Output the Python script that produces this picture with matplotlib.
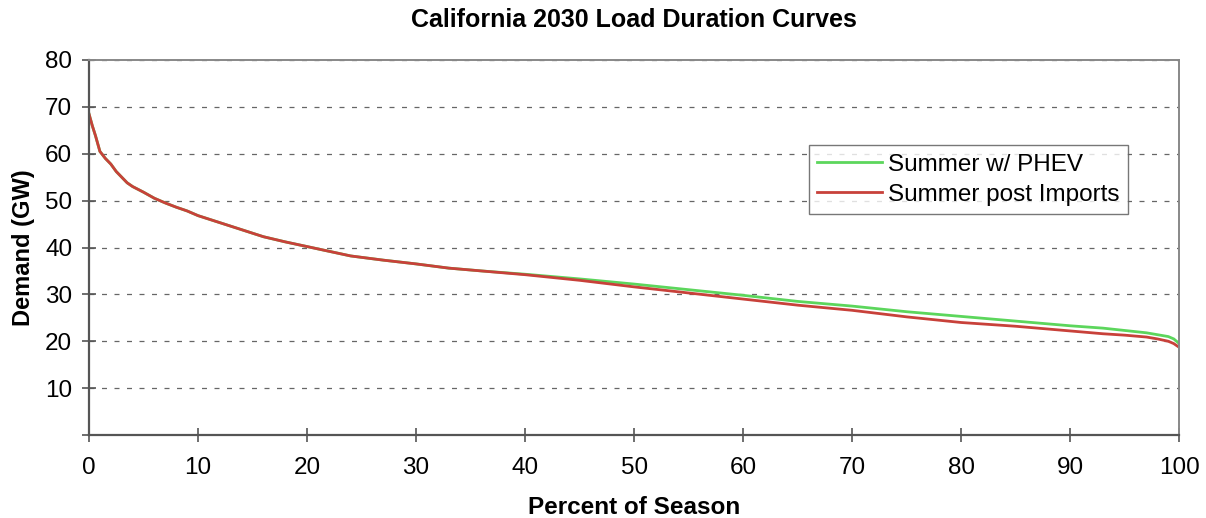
import numpy as np
import matplotlib.pyplot as plt

plt.rcParams['font.family'] = ['Liberation Sans', 'DejaVu Sans']

# percent of season vs demand (GW)
pct = [0, 0.3, 0.6, 1, 1.5, 2, 2.5, 3, 3.5, 4, 5, 6, 7, 8, 9, 10, 12, 14, 16, 18, 20,
       22, 24, 27, 30, 33, 36, 40, 45, 50, 55, 60, 65, 70, 75, 80, 85, 90, 93, 95, 97,
       98, 99, 99.5, 100]
post_imports = [68.5, 66, 63.8, 60.5, 59, 57.8, 56.2, 55, 53.8, 53, 51.8, 50.5, 49.5, 48.6,
                47.8, 46.8, 45.3, 43.8, 42.3, 41.2, 40.2, 39.2, 38.2, 37.3, 36.5, 35.6, 35.0,
                34.2, 33.0, 31.6, 30.3, 29.0, 27.7, 26.6, 25.2, 24.0, 23.2, 22.2, 21.6, 21.3,
                20.9, 20.5, 20.0, 19.5, 18.7]
w_phev = [68.5, 66, 63.8, 60.5, 59, 57.8, 56.2, 55, 53.8, 53, 51.8, 50.5, 49.5, 48.6,
          47.8, 46.8, 45.3, 43.8, 42.3, 41.2, 40.2, 39.2, 38.2, 37.3, 36.5, 35.6, 35.0,
          34.3, 33.3, 32.2, 31.0, 29.8, 28.5, 27.5, 26.3, 25.3, 24.3, 23.3, 22.8, 22.3,
          21.8, 21.4, 21.0, 20.5, 19.5]

fig = plt.figure(figsize=(12.06, 5.18), dpi=100)
ax = fig.add_axes([0.0738, 0.1602, 0.904, 0.724])

ax.plot(pct, w_phev, color='#5cd65c', lw=2.0, label='Summer w/ PHEV')
ax.plot(pct, post_imports, color='#c8413a', lw=2.0, label='Summer post Imports')

ax.set_xlim(0, 100)
ax.set_ylim(0, 80)
ax.set_xticks(np.arange(0, 101, 10))
ax.set_yticks(np.arange(0, 81, 10))
ax.set_yticklabels([''] + [str(v) for v in range(10, 81, 10)])
ax.yaxis.grid(True, linestyle=(0, (4, 6)), color='#666666', lw=0.9)
ax.tick_params(labelsize=17.5, length=10, color='#555555', width=1.2, direction='inout')
ax.tick_params(axis='x', pad=11)
ax.tick_params(axis='y', pad=7)

for s in ['left', 'bottom']:
    ax.spines[s].set_color('#555555')
    ax.spines[s].set_linewidth(1.6)
for s in ['top', 'right']:
    ax.spines[s].set_color('#888888')
    ax.spines[s].set_linewidth(1.4)

ax.set_title('California 2030 Load Duration Curves', fontsize=18, fontweight='bold', pad=24)
ax.set_xlabel('Percent of Season', fontsize=17.5, fontweight='bold', labelpad=12)
ax.set_ylabel('Demand (GW)', fontsize=17, fontweight='bold', labelpad=7)

leg = ax.legend(loc='upper right', bbox_to_anchor=(0.953, 0.773), fontsize=17.5,
                frameon=True, fancybox=False, handlelength=2.65, borderpad=0.35,
                labelspacing=0.33, handletextpad=0.25, borderaxespad=0)
leg.get_frame().set_edgecolor('#555555')
leg.get_frame().set_linewidth(1.0)

fig.savefig('out.png', dpi=100)
